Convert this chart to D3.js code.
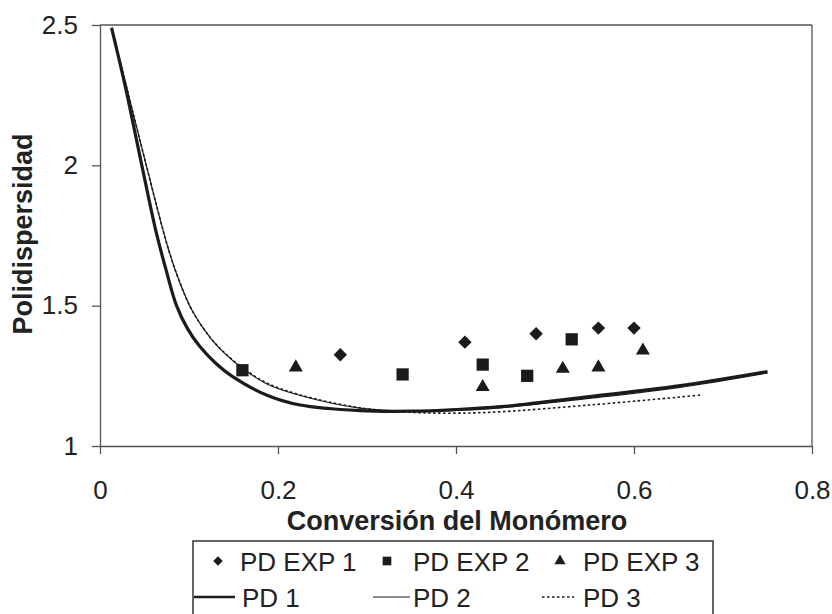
<!DOCTYPE html>
<html>
<head>
<meta charset="utf-8">
<script src="https://cdn.jsdelivr.net/npm/d3@7"></script>
<style>
  html, body { margin: 0; padding: 0; background: #fff; }
  svg { display: block; font-family: Arial, "Liberation Sans", sans-serif; }
</style>
</head>
<body>
<svg id="chart" width="832" height="614"></svg>
<script>
// Experimental polydispersity vs. monomer conversion
const exp1X = [0.27, 0.41, 0.49, 0.56, 0.60];
const exp1Y = [1.325, 1.37, 1.40, 1.42, 1.42];
const exp2X = [0.16, 0.34, 0.43, 0.48, 0.53];
const exp2Y = [1.27, 1.255, 1.29, 1.25, 1.38];
const exp3X = [0.22, 0.43, 0.52, 0.56, 0.61];
const exp3Y = [1.28, 1.21, 1.275, 1.28, 1.34];

// Model curves
const pd1X = [0.013, 0.028, 0.047, 0.0625, 0.074, 0.086, 0.098, 0.112, 0.130, 0.149, 0.187, 0.225, 0.292, 0.35, 0.40, 0.45, 0.55, 0.65, 0.75];
const pd1Y = [2.49, 2.287, 2.0, 1.77, 1.63, 1.5, 1.42, 1.355, 1.295, 1.247, 1.182, 1.146, 1.126, 1.124, 1.13, 1.14, 1.176, 1.214, 1.265];
const pd2X = [0.013, 0.029, 0.052, 0.077, 0.090, 0.104, 0.124, 0.140, 0.161, 0.187, 0.225, 0.292, 0.35, 0.40, 0.45, 0.55, 0.65, 0.75];
const pd2Y = [2.49, 2.29, 2.0, 1.70, 1.58, 1.48, 1.385, 1.33, 1.275, 1.222, 1.18, 1.135, 1.124, 1.127, 1.136, 1.17, 1.208, 1.26];
const pd3X = [0.013, 0.029, 0.052, 0.077, 0.090, 0.104, 0.124, 0.140, 0.161, 0.187, 0.225, 0.292, 0.35, 0.40, 0.45, 0.55, 0.65, 0.676];
const pd3Y = [2.49, 2.29, 2.0, 1.70, 1.58, 1.48, 1.386, 1.332, 1.277, 1.225, 1.182, 1.136, 1.12, 1.117, 1.122, 1.146, 1.174, 1.182];

const xTicks = [0, 0.2, 0.4, 0.6, 0.8];
const yTicks = [1, 1.5, 2, 2.5];
const xTitle = "Conversión del Monómero";
const yTitle = "Polidispersidad";
const legendRow1 = ["PD EXP 1", "PD EXP 2", "PD EXP 3"];
const legendRow2 = ["PD 1", "PD 2", "PD 3"];

const ink = "#1b1b1b";
const axisCol = "#555";
const svg = d3.select("#chart");

const x = d3.scaleLinear().domain([0, 0.8]).range([100, 812]);
const y = d3.scaleLinear().domain([1, 2.5]).range([446, 25]);

// plot frame (top and right)
svg.append("line").attr("x1", x(0)).attr("x2", x(0.8)).attr("y1", y(2.5)).attr("y2", y(2.5))
  .attr("stroke", axisCol).attr("stroke-width", 1.3);
svg.append("line").attr("x1", x(0.8)).attr("x2", x(0.8)).attr("y1", y(2.5)).attr("y2", y(1))
  .attr("stroke", axisCol).attr("stroke-width", 1.3);

// axes
const xAxis = svg.append("g").attr("transform", `translate(0,${y(1)})`)
  .call(d3.axisBottom(x).tickValues(xTicks).tickFormat(d3.format("")).tickSize(8).tickPadding(27).tickSizeOuter(0));
const yAxis = svg.append("g").attr("transform", `translate(${x(0)},0)`)
  .call(d3.axisLeft(y).tickValues(yTicks).tickFormat(d3.format("")).tickSize(8).tickPadding(14).tickSizeOuter(0));
[xAxis, yAxis].forEach(g => {
  g.select(".domain").attr("stroke", axisCol).attr("stroke-width", 1.3);
  g.selectAll(".tick line").attr("stroke", axisCol).attr("stroke-width", 1.3);
  g.selectAll(".tick text").attr("fill", "#222").style("font-size", "26px")
    .style("font-family", "Arial, 'Liberation Sans', sans-serif");
});

// titles
svg.append("text").attr("x", 457).attr("y", 530).attr("text-anchor", "middle")
  .style("font-size", "27px").style("font-weight", "bold").attr("fill", "#222").text(xTitle);
svg.append("text").attr("transform", "translate(32,234) rotate(-90)").attr("text-anchor", "middle")
  .style("font-size", "27px").style("font-weight", "bold").attr("fill", "#222").text(yTitle);

// model curves
const lineGen = d3.line().x(d => x(d[0])).y(d => y(d[1])).curve(d3.curveCatmullRom.alpha(0.5));
const curves = [
  { xs: pd3X, ys: pd3Y, w: 1.6, dash: "2.5,2.5" },
  { xs: pd2X, ys: pd2Y, w: 1.2, dash: null },
  { xs: pd1X, ys: pd1Y, w: 3.2, dash: null }
];
curves.forEach(c => {
  svg.append("path").datum(c.xs.map((v, i) => [v, c.ys[i]]))
    .attr("d", lineGen).attr("fill", "none").attr("stroke", ink)
    .attr("stroke-width", c.w).attr("stroke-dasharray", c.dash);
});

// experimental markers: diamond (rotated square), square, triangle
const sym = [d3.symbolSquare, d3.symbolSquare, d3.symbolTriangle];
const rot = [45, 0, 0];
const sets = [[exp1X, exp1Y], [exp2X, exp2Y], [exp3X, exp3Y]];
const sizes = [90, 150, 85];
sets.forEach((s, k) => {
  svg.append("g").selectAll("path").data(s[0].map((v, i) => [v, s[1][i]])).join("path")
    .attr("transform", d => `translate(${x(d[0])},${y(d[1])}) rotate(${rot[k]})`)
    .attr("d", d3.symbol(sym[k], sizes[k])).attr("fill", ink);
});

// legend
const lg = svg.append("g");
lg.append("rect").attr("x", 193).attr("y", 541).attr("width", 520).attr("height", 90)
  .attr("fill", "#fff").attr("stroke", "#333").attr("stroke-width", 1.5);
const r1 = 571, r2 = 607;
const markX = [218, 387, 560], textX1 = [240, 413, 583];
const legSizes = [45, 75, 55];
legendRow1.forEach((t, k) => {
  lg.append("path").attr("transform", `translate(${markX[k]},${r1 - 10}) rotate(${rot[k]})`)
    .attr("d", d3.symbol(sym[k], legSizes[k])).attr("fill", ink);
  lg.append("text").attr("x", textX1[k]).attr("y", r1).style("font-size", "26px").attr("fill", "#222").text(t);
});
const lineX = [[194, 235], [373, 410], [542, 574]], textX2 = [242, 413, 583];
const lineW = [2.6, 1.2, 1.5], lineDash = [null, null, "2.5,2.5"];
legendRow2.forEach((t, k) => {
  lg.append("line").attr("x1", lineX[k][0]).attr("x2", lineX[k][1]).attr("y1", r2 - 10).attr("y2", r2 - 10)
    .attr("stroke", ink).attr("stroke-width", lineW[k]).attr("stroke-dasharray", lineDash[k]);
  lg.append("text").attr("x", textX2[k]).attr("y", r2).style("font-size", "26px").attr("fill", "#222").text(t);
});
</script>
</body>
</html>
